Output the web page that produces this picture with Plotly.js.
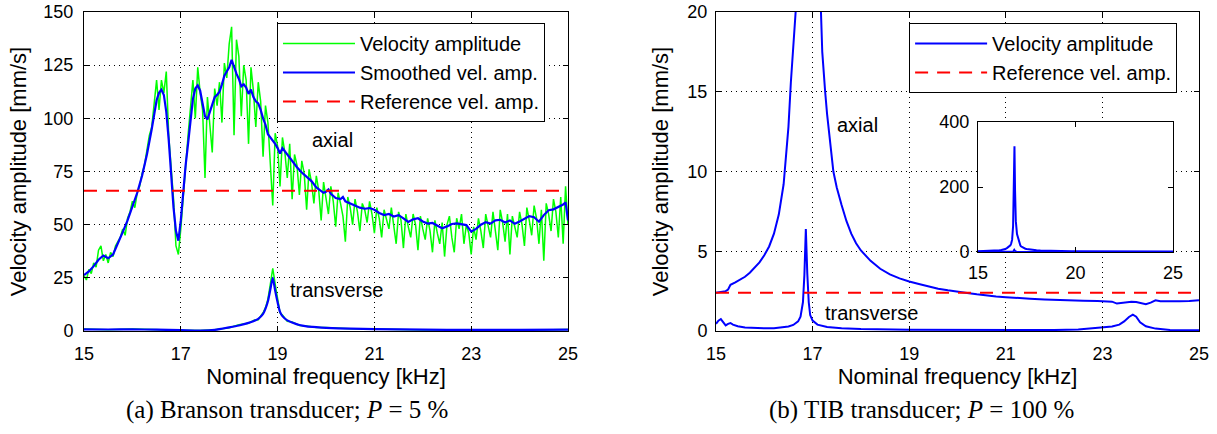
<!DOCTYPE html>
<html>
<head>
<meta charset="utf-8">
<script src="https://cdn.plot.ly/plotly-3.0.1.min.js"></script>
<style>html,body{margin:0;padding:0;background:#fff;}#chart{width:1217px;height:434px;}</style>
</head>
<body>
<div id="chart"></div>
<script>
// ---------- (a) Branson transducer, P = 5 % ----------
// raw velocity amplitude, axial (sampled every 0.05 kHz from 15 to 25)
const bransonRawStart = 15.0;
const bransonRawStep = 0.05;
const bransonAxialRaw = [
 26,24,29,27,32,30,38,40,33,36,      // 15.00-15.45
 32,37,35,40,42,44,48,45,53,56,      // 15.50-15.95
 61,58,65,68,74,78,85,92,96,108,     // 16.00-16.45
 118,104,118,112,122,92,76,62,40,36, // 16.50-16.95
 48,63,80,92,105,118,100,124,112,104,// 17.00-17.45
 72,110,97,84,114,106,117,98,126,119,// 17.50-17.95
 135,143,92,137,129,101,125,118,88,124,// 18.00-18.45
 113,96,117,108,82,106,98,76,59,93,  // 18.50-18.95
 87,68,91,84,72,88,62,83,78,64,      // 19.00-19.45
 80,74,57,76,70,60,73,66,52,70,      // 19.50-19.95
 63,55,68,61,49,65,60,54,42,63,      // 20.00-20.45
 58,50,62,56,47,60,57,51,61,55,      // 20.50-20.95
 46,58,53,44,57,52,48,58,50,41,      // 21.00-21.45
 56,52,39,55,49,44,55,50,38,54,      // 21.50-21.95
 48,43,53,47,37,52,46,41,51,35,      // 22.00-22.45
 50,54,44,37,53,48,55,41,50,46,      // 22.50-22.95
 36,49,43,53,47,39,55,50,44,56,      // 23.00-23.45
 48,38,57,51,42,55,36,54,49,44,      // 23.50-23.95
 56,50,40,58,52,45,59,53,41,57,      // 24.00-24.45
 33,60,55,47,62,56,44,63,41,68,      // 24.50-24.95
 50                                  // 25.00
];
// smoothed velocity amplitude, axial
const bransonSmoothFreq = [15.0,15.1,15.2,15.3,15.4,15.5,15.6,15.7,15.8,15.9,16.0,16.1,16.2,16.3,16.4,16.45,16.5,16.55,16.6,16.65,16.7,16.75,16.8,16.85,16.9,16.95,17.0,17.05,17.1,17.15,17.2,17.25,17.3,17.35,17.4,17.45,17.5,17.55,17.6,17.65,17.7,17.75,17.8,17.85,17.9,17.95,18.0,18.05,18.1,18.15,18.2,18.25,18.3,18.35,18.4,18.45,18.5,18.55,18.6,18.65,18.7,18.75,18.8,18.85,18.9,18.95,19.0,19.05,19.1,19.15,19.2,19.3,19.4,19.5,19.6,19.7,19.8,19.9,19.95,20.0,20.05,20.1,20.2,20.3,20.35,20.4,20.5,20.6,20.7,20.8,20.9,21.0,21.1,21.2,21.3,21.4,21.5,21.6,21.7,21.8,21.9,22.0,22.1,22.2,22.3,22.4,22.5,22.6,22.7,22.8,22.9,23.0,23.1,23.2,23.3,23.4,23.5,23.6,23.7,23.8,23.9,24.0,24.1,24.2,24.3,24.4,24.5,24.6,24.7,24.8,24.9,24.95,25.0];
const bransonAxialSmooth = [26.3,28,30.5,33.5,35.5,34.2,36,41,46.5,52,58.5,65,73,83,95,102,108.5,112,113.5,111,103,90,74,58,47,42.5,52,66,78,88,100,109,114,115.5,113,106,101,99.5,103,107,110,111,112.5,116,120,122,124,127.5,124,121,118.5,115,116,114.5,111.5,113.5,110,108,107,104,100,97,92.5,91,90,88,86,83.5,86,84.5,82.5,80,77,74.5,72.5,70.5,67.5,66,65,65.5,66.5,64.5,62.5,62,63,61,60,59,58,57.5,57.8,57,55.5,54.5,55,53.8,54.5,53,51.3,52.5,53,51.5,50.5,50.8,49.5,48.3,49.2,50.3,50.6,50.2,49.8,46.7,48,50,51.2,50.5,52,52.3,51,52,50.4,51.5,52.8,54,53.5,51.4,54.5,56.8,57.2,58.3,59.5,60.5,52];
// transverse
const bransonTransFreq = [15.0,15.5,16.0,16.5,17.0,17.4,17.7,18.0,18.2,18.4,18.5,18.6,18.7,18.75,18.8,18.85,18.9,18.95,19.0,19.05,19.1,19.2,19.3,19.45,19.6,19.8,20.0,20.5,21.0,22.0,23.0,24.0,25.0];
const bransonTransRaw =    [0.9,0.6,0.9,0.5,0.3,0.2,0.6,1.5,2.9,3.6,5.0,5.3,8.6,11,15,22,29.5,22,14.5,8.5,7.5,4.6,4.2,2.6,2.4,1.6,1.6,1.0,0.9,0.5,0.6,0.4,0.7];
const bransonTransSmooth = [0.8,0.7,0.8,0.6,0.4,0.2,0.5,1.7,2.6,3.8,4.6,5.7,8.0,10.5,14,19.5,25,19,13.5,9,7,5,4,2.8,2.2,1.8,1.5,1.1,0.9,0.6,0.5,0.5,0.6];
const bransonReference = 66;

// ---------- (b) TIB transducer, P = 100 % ----------
const tibAxialFreq = [15.0,15.1,15.2,15.25,15.3,15.4,15.5,15.6,15.7,15.8,15.9,16.0,16.1,16.2,16.3,16.4,16.5,16.55,16.6,16.66,16.7,16.75,16.8,16.84,16.87,16.9,16.94,17.0,17.1,17.17,17.2,17.26,17.3,17.43,17.5,17.6,17.7,17.8,17.9,18.0,18.2,18.4,18.6,18.8,19.0,19.2,19.4,19.6,19.8,20.0,20.2,20.4,20.6,20.8,21.0,21.2,21.5,21.8,22.0,22.3,22.6,22.9,23.1,23.2,23.3,23.4,23.5,23.6,23.7,23.8,23.9,24.0,24.1,24.2,24.4,24.6,24.8,25.0];
const tibAxial = [2.4,2.45,2.5,2.6,2.9,3.05,3.2,3.4,3.65,3.95,4.3,4.75,5.3,6.1,7.3,9.2,12.8,15.6,17.8,20.5,26,38,80,200,325,190,95,55,29,20.3,17.5,15,13.6,10,9,7.9,6.9,6.1,5.5,5.05,4.4,3.9,3.55,3.3,3.1,2.95,2.8,2.65,2.55,2.45,2.38,2.3,2.22,2.17,2.12,2.07,2.02,1.98,1.95,1.93,1.9,1.88,1.86,1.84,1.72,1.75,1.82,1.84,1.82,1.73,1.68,1.78,1.92,1.86,1.85,1.87,1.88,1.92];
const tibTransFreq = [15.0,15.05,15.1,15.15,15.2,15.25,15.3,15.35,15.45,15.6,15.8,16.0,16.2,16.4,16.5,16.6,16.7,16.75,16.8,16.83,16.86,16.89,16.92,16.95,17.0,17.1,17.3,17.6,18.0,19.0,20.0,21.0,22.0,22.5,23.0,23.2,23.35,23.45,23.55,23.63,23.7,23.78,23.9,24.1,24.4,25.0];
const tibTrans = [0.45,0.65,0.75,0.55,0.35,0.45,0.5,0.4,0.3,0.22,0.18,0.17,0.18,0.22,0.28,0.38,0.6,0.9,1.8,3.5,6.4,3.6,1.8,1.0,0.65,0.4,0.25,0.17,0.12,0.08,0.06,0.05,0.06,0.1,0.2,0.28,0.4,0.6,0.88,1.02,0.9,0.55,0.3,0.15,0.07,0.05];
const tibReference = 2.4;

const freqRange = [15, 25];
const xTicks = [15, 17, 19, 21, 23, 25];
const insetXTicks = [15, 20, 25];
const insetYTicks = [0, 200, 400];

// ---------- build ----------
const bransonRawFreq = bransonAxialRaw.map((_, i) => +(bransonRawStart + i * bransonRawStep).toFixed(2));

const GREEN = '#00ff00', BLUE = '#0000ff', RED = '#ff0000';
const SANS = 'Liberation Sans, Arial, Helvetica, sans-serif';
const SERIF = 'Liberation Serif, Times New Roman, serif';

const traces = [
  {x: bransonRawFreq, y: bransonAxialRaw, type: 'scatter', mode: 'lines', name: 'Velocity amplitude',
   line: {color: GREEN, width: 1.5}, xaxis: 'x', yaxis: 'y', legend: 'legend'},
  {x: bransonTransFreq, y: bransonTransRaw, type: 'scatter', mode: 'lines', showlegend: false,
   line: {color: GREEN, width: 1.5}, xaxis: 'x', yaxis: 'y'},
  {x: bransonSmoothFreq, y: bransonAxialSmooth, type: 'scatter', mode: 'lines', name: 'Smoothed vel. amp.',
   line: {color: BLUE, width: 2.2}, xaxis: 'x', yaxis: 'y', legend: 'legend'},
  {x: bransonTransFreq, y: bransonTransSmooth, type: 'scatter', mode: 'lines', showlegend: false,
   line: {color: BLUE, width: 2.2, shape: 'spline', smoothing: 0.6}, xaxis: 'x', yaxis: 'y'},
  {x: freqRange, y: [bransonReference, bransonReference], type: 'scatter', mode: 'lines', name: 'Reference vel. amp.',
   line: {color: RED, width: 2, dash: '13px,9px'}, xaxis: 'x', yaxis: 'y', legend: 'legend'},

  {x: tibAxialFreq, y: tibAxial, type: 'scatter', mode: 'lines', name: 'Velocity amplitude',
   line: {color: BLUE, width: 2}, xaxis: 'x2', yaxis: 'y2', legend: 'legend2'},
  {x: tibTransFreq, y: tibTrans, type: 'scatter', mode: 'lines', showlegend: false,
   line: {color: BLUE, width: 2}, xaxis: 'x2', yaxis: 'y2'},
  {x: freqRange, y: [tibReference, tibReference], type: 'scatter', mode: 'lines', name: 'Reference vel. amp.',
   line: {color: RED, width: 2, dash: '13px,9px'}, xaxis: 'x2', yaxis: 'y2', legend: 'legend2'},

  {x: tibAxialFreq, y: tibAxial, type: 'scatter', mode: 'lines', showlegend: false,
   line: {color: BLUE, width: 2}, xaxis: 'x3', yaxis: 'y3'},
  {x: tibTransFreq, y: tibTrans, type: 'scatter', mode: 'lines', showlegend: false,
   line: {color: BLUE, width: 2}, xaxis: 'x3', yaxis: 'y3'}
];

const tickFont = {family: SANS, size: 18, color: '#000'};
const titleFont = {family: SANS, size: 22, color: '#000'};
const baseAxis = {
  showline: true, linecolor: '#000', linewidth: 1, mirror: 'ticks',
  ticks: 'inside', ticklen: 5, tickcolor: '#000', tickwidth: 1,
  showgrid: true, gridcolor: '#000', griddash: '1px,4px', gridwidth: 1,
  zeroline: false, tickfont: tickFont, fixedrange: true
};
const xBase = Object.assign({}, baseAxis, {range: freqRange, tickmode: 'array', tickvals: xTicks,
  ticktext: xTicks.map(String), ticklabelstandoff: 6,
  title: {text: 'Nominal frequency [kHz]', font: titleFont, standoff: 4}});

const legendBase = {xanchor: 'left', yanchor: 'top', bgcolor: '#fff',
  bordercolor: '#000', borderwidth: 1, font: {family: SANS, size: 20, color: '#000'},
  itemwidth: 72, traceorder: 'normal', tracegroupgap: 0};

const layout = {
  width: 1217, height: 434, autosize: false,
  margin: {l: 0, r: 0, t: 0, b: 0},
  paper_bgcolor: '#fff', plot_bgcolor: '#fff',
  font: {family: SANS, color: '#000'},
  xaxis: Object.assign({}, xBase, {domain: [0.06902, 0.46672], anchor: 'y'}),
  yaxis: Object.assign({}, baseAxis, {domain: [0.23733, 0.97235], anchor: 'x', range: [0, 150], dtick: 25, tick0: 0,
    ticklabelstandoff: 6, title: {text: 'Velocity amplitude [mm/s]', font: titleFont, standoff: 10}}),
  xaxis2: Object.assign({}, xBase, {domain: [0.58833, 0.98521], anchor: 'y2'}),
  yaxis2: Object.assign({}, baseAxis, {domain: [0.23733, 0.97235], anchor: 'x2', range: [0, 20], dtick: 5, tick0: 0,
    ticklabelstandoff: 4, title: {text: 'Velocity amplitude [mm/s]', font: titleFont, standoff: 12}}),
  xaxis3: Object.assign({}, baseAxis, {domain: [0.80361, 0.96385], anchor: 'y3', range: freqRange,
    tickmode: 'array', tickvals: insetXTicks, showgrid: false, ticklabelstandoff: 4}),
  yaxis3: Object.assign({}, baseAxis, {domain: [0.41935, 0.71889], anchor: 'x3', range: [0, 400],
    tickmode: 'array', tickvals: insetYTicks, showgrid: false, ticklabelstandoff: 4}),
  legend: Object.assign({}, legendBase, {x: 0.2276, y: 0.947}),
  legend2: Object.assign({}, legendBase, {x: 0.747, y: 0.947}),
  annotations: [
    {text: 'axial', x: 20.13, y: 90, xref: 'x', yref: 'y', showarrow: false, xanchor: 'center', yanchor: 'middle',
     font: {family: SANS, size: 20, color: '#000'}},
    {text: 'transverse', x: 19.22, y: 19.3, xref: 'x', yref: 'y', showarrow: false, xanchor: 'left', yanchor: 'middle',
     font: {family: SANS, size: 20, color: '#000'}},
    {text: 'axial', x: 17.94, y: 12.9, xref: 'x2', yref: 'y2', showarrow: false, xanchor: 'center', yanchor: 'middle',
     font: {family: SANS, size: 20, color: '#000'}},
    {text: 'transverse', x: 17.21, y: 1.15, xref: 'x2', yref: 'y2', showarrow: false, xanchor: 'left', yanchor: 'middle',
     font: {family: SANS, size: 20, color: '#000'}},
    {text: '(a) Branson transducer; <i>P</i> = 5 %', x: 0.236, y: 0.0553, xref: 'paper', yref: 'paper',
     showarrow: false, xanchor: 'center', yanchor: 'middle', font: {family: SERIF, size: 25, color: '#000'}},
    {text: '(b) TIB transducer; <i>P</i> = 100 %', x: 0.757, y: 0.0553, xref: 'paper', yref: 'paper',
     showarrow: false, xanchor: 'center', yanchor: 'middle', font: {family: SERIF, size: 25, color: '#000'}}
  ]
};

Plotly.newPlot('chart', traces, layout, {staticPlot: true, displayModeBar: false});
</script>
</body>
</html>
